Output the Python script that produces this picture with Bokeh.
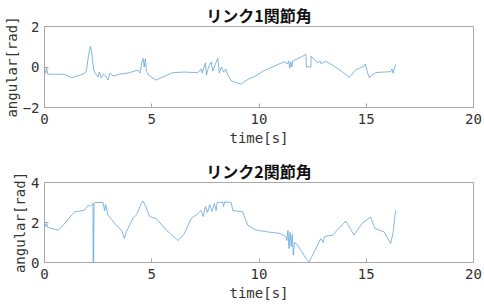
from bokeh.plotting import figure
from bokeh.layouts import column
from bokeh.embed import file_html
from bokeh.resources import INLINE
from bokeh.models import FixedTicker, Range1d

# ---- data ----
t1 = [0.0, 0.05, 0.1, 0.15, 0.5, 0.93, 1.1, 1.26, 1.5, 1.86, 1.95, 2.03, 2.1, 2.14, 2.2, 2.25, 2.31,
      2.4, 2.5, 2.55, 2.65, 2.75, 2.85, 2.96, 3.05, 3.2, 3.5, 3.9, 4.36, 4.45, 4.55, 4.6, 4.65, 4.7,
      4.75, 4.85, 5.2, 5.5, 5.98, 6.5, 7.15, 7.3, 7.35, 7.5, 7.55, 7.65, 7.77, 7.85, 7.95, 8.08, 8.15,
      8.25, 8.35, 8.45, 8.55, 8.7, 9.16, 9.5, 9.86, 10.2, 10.56, 11.17, 11.33, 11.38, 11.43, 11.48,
      11.53, 11.57, 11.8, 12.19, 12.21, 12.42, 12.43, 12.73, 12.85, 12.9, 13.1, 13.5, 13.9, 14.2,
      14.5, 14.9, 14.95, 15.0, 15.13, 15.44, 15.8, 16.14, 16.2, 16.25, 16.37]
v1 = [-0.1, -0.3, -0.05, -0.35, -0.36, -0.36, -0.45, -0.53, -0.45, -0.33, -0.2, 0.4, 0.85, 1.02, 0.75,
      0.2, -0.2, -0.35, -0.5, -0.25, -0.55, -0.35, -0.45, -0.64, -0.3, -0.45, -0.35, -0.3, -0.15, -0.3,
      0.3, 0.42, 0.0, 0.4, -0.2, -0.4, -0.65, -0.5, -0.28, -0.25, -0.28, -0.1, -0.3, 0.2, -0.4, 0.0,
      0.24, -0.2, 0.1, 0.43, -0.3, 0.0, -0.25, -0.1, -0.4, -0.68, -0.85, -0.6, -0.44, -0.2, -0.03,
      0.26, 0.15, 0.3, -0.05, 0.25, 0.0, 0.3, 0.4, 0.62, 0.0, 0.0, 0.54, 0.2, 0.3, 0.15, 0.29, 0.05,
      -0.25, -0.52, -0.15, 0.05, 0.15, -0.05, -0.52, -0.28, -0.25, -0.23, -0.1, -0.3, 0.13]

t2 = [0.0, 0.05, 0.1, 0.15, 0.64, 0.9, 1.26, 1.41, 1.88, 2.03, 2.1, 2.26, 2.27, 2.29, 2.31, 2.33,
      2.73, 2.8, 2.85, 2.96, 3.35, 3.6, 3.73, 3.8, 4.12, 4.3, 4.51, 4.59, 4.7, 4.9, 5.2, 5.7, 6.22,
      6.5, 6.84, 7.1, 7.3, 7.4, 7.5, 7.6, 7.7, 7.8, 7.92, 8.0, 8.05, 8.3, 8.35, 8.4, 8.7, 8.78, 9.24,
      9.47, 9.86, 10.4, 11.0, 11.25, 11.3, 11.35, 11.4, 11.45, 11.5, 11.55, 11.6, 11.65, 11.8, 12.19,
      12.34, 12.5, 12.88, 13.0, 13.05, 13.43, 14.05, 14.43, 14.8, 15.2, 15.4, 15.83, 16.14, 16.25, 16.37]
v2 = [2.0, 1.8, 1.95, 1.75, 1.62, 1.9, 2.37, 2.53, 2.62, 2.87, 2.8, 2.95, 0.0, 0.0, 2.98, 3.0, 3.0,
      2.6, 2.9, 2.37, 1.87, 1.6, 1.2, 1.5, 2.2, 2.4, 2.95, 3.07, 2.85, 2.3, 2.2, 1.6, 1.1, 1.4, 2.2,
      2.4, 2.6, 2.3, 2.8, 2.5, 2.9, 2.55, 2.95, 2.6, 3.0, 3.02, 2.8, 3.03, 3.0, 2.6, 2.53, 1.87, 1.62,
      1.53, 1.45, 1.3, 1.1, 1.6, 0.7, 1.5, 0.8, 1.4, 0.37, 1.0, 0.87, 0.2, 0.03, 0.37, 1.2, 1.0, 1.3,
      1.37, 2.07, 1.37, 1.95, 2.28, 1.7, 1.53, 0.95, 1.5, 2.6]

titles = ["リンク1関節角", "リンク2関節角"]
x_ticks = [0, 5, 10, 15, 20]
y_ticks1 = [-2, 0, 2]
y_ticks2 = [0, 2, 4]

TFONT = "Noto Sans CJK JP"
LFONT = "DejaVu Sans Mono"
TXT = "#333333"
LINE = "#4d9ad6"


def make(t, v, title, yticks, yr, top, bottom):
    p = figure(width=484, height=154, output_backend="svg", toolbar_location=None,
               x_range=Range1d(0, 20), y_range=Range1d(*yr),
               min_border_left=43, min_border_right=11,
               min_border_top=top, min_border_bottom=bottom)
    p.line(t, v, color=LINE, line_width=0.7)
    p.title.text = title
    p.title.align = "center"
    p.title.text_font = TFONT
    p.title.text_font_size = "16px"
    p.title.text_font_style = "bold"
    p.title.text_color = "#111111"
    p.title.offset = 0
    p.title.standoff = 0
    p.xgrid.visible = False
    p.ygrid.visible = False
    p.outline_line_color = "#a8a8a8"
    p.outline_line_width = 1
    p.background_fill_color = "white"
    p.border_fill_color = "white"
    for ax in (p.xaxis[0], p.yaxis[0]):
        ax.axis_line_color = "#a8a8a8"
        ax.major_tick_in = 4
        ax.major_tick_out = 0
        ax.minor_tick_in = 0
        ax.minor_tick_out = 0
        ax.major_tick_line_color = "#a8a8a8"
        ax.major_label_text_font = LFONT
        ax.major_label_text_font_size = "14px"
        ax.major_label_text_color = TXT
        ax.axis_label_text_font = LFONT
        ax.axis_label_text_font_size = "14px"
        ax.axis_label_text_font_style = "normal"
        ax.axis_label_text_color = TXT
    p.xaxis.ticker = FixedTicker(ticks=x_ticks)
    p.yaxis.ticker = FixedTicker(ticks=yticks)
    p.xaxis.axis_label = "time[s]"
    p.yaxis.axis_label = "angular[rad]"
    p.xaxis.major_label_standoff = 6
    p.yaxis.major_label_standoff = 5
    p.xaxis.axis_label_standoff = 3
    p.yaxis.axis_label_standoff = 0
    return p


p1 = make(t1, v1, titles[0], y_ticks1, (-2, 2), 25, 47)
p2 = make(t2, v2, titles[1], y_ticks2, (0, 4), 28, 46)

layout = column(p1, p2, spacing=0)
open("out.html", "w").write(file_html(layout, INLINE))
